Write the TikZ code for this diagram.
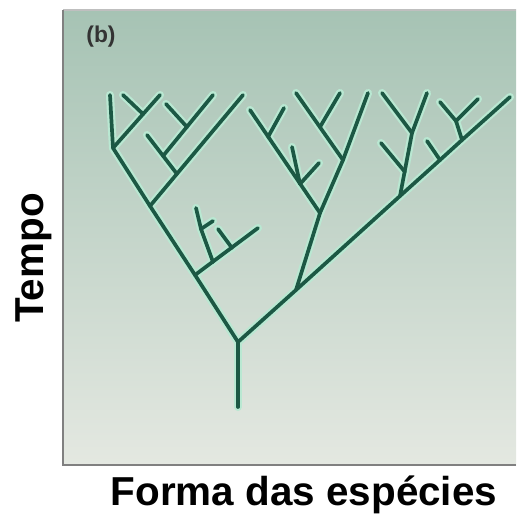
\documentclass[tikz,border=0pt]{standalone}
\usepackage{fontspec}
\setmainfont{Liberation Sans}
\usepackage{tikz}

\definecolor{panetop}{RGB}{166,195,180}
\definecolor{panemid}{RGB}{200,215,205}
\definecolor{panebot}{RGB}{228,232,225}
\definecolor{treegreen}{RGB}{28,88,68}
\definecolor{treehalo}{RGB}{185,232,210}

\newcommand{\treeedges}{root/F, F/A, A/B, B/C, C/tC,
  C/c1, c2/tc2, B/b1, K/k1, M/m1, N/n1,
  A/a1, P1/p1, p1/p1t, p1/p1r, P2/p2,
  F/Q, Q/X1, X1/X3, X3/P3, P3/G,
  Q/S1, S1/S2, S2/s, S1/s1t, T/T1, T/T2, V/v1, S2/s2t, W/w1,
  X1/Y1, Y1/y1, Y1/y2, Z/z1, X3/x3, P3/Y2, Y2/y3, Y2/y4}

\begin{document}
\begin{tikzpicture}[x=0.02cm, y=-0.02cm,
    halo/.style = {line width=4.6pt, treehalo, line cap=round, line join=round},
    branch/.style = {line width=2.1pt, treegreen, line cap=round, line join=round},
    axislabel/.style = {font=\fontsize{23}{26}\selectfont\bfseries, text=black, inner sep=0pt}]
  \useasboundingbox (0,0) rectangle (516,519);
  \fill[white] (0,0) rectangle (516,519);

  % panel
  \shade[top color=panetop, middle color=panemid, bottom color=panebot]
    (63,10) rectangle (516,465);
  \draw[line width=1pt, black!25] (63,10) -- (516,10);
  \draw[line width=1.6pt, black!50] (63,10) -- (63,465) -- (516,465);
  \node[font=\fontsize{13}{15}\selectfont\bfseries, text=black!80] (tag) at (101,37) {(b)};

  % tree points
  \coordinate (root) at (238,407);
  \coordinate (F) at (238,342);
  \coordinate (A) at (195,275);
  \coordinate (B) at (150,206);
  \coordinate (C) at (113,148);
  \coordinate (tC) at (110,95);
  \coordinate (c1) at (160,95);
  \coordinate (c2) at (143,114);
  \coordinate (tc2) at (123,95);
  \coordinate (b1) at (243,95);
  \coordinate (K) at (177,174);
  \coordinate (k1) at (147,135);
  \coordinate (M) at (163,156);
  \coordinate (m1) at (213,95);
  \coordinate (N) at (187,127);
  \coordinate (n1) at (166,104);
  \coordinate (a1) at (258,228);
  \coordinate (P1) at (213,262);
  \coordinate (p1) at (201,229);
  \coordinate (p1t) at (196,208);
  \coordinate (p1r) at (213,221);
  \coordinate (P2) at (232,248);
  \coordinate (p2) at (218,229);

  \coordinate (Q) at (296,290);
  \coordinate (S1) at (320,213);
  \coordinate (S2) at (343,160);
  \coordinate (s) at (368,93);
  \coordinate (s1t) at (250,110);
  \coordinate (T) at (300,184);
  \coordinate (T1) at (292,147);
  \coordinate (T2) at (319,163);
  \coordinate (V) at (268,137);
  \coordinate (v1) at (284,108);
  \coordinate (s2t) at (296,93);
  \coordinate (W) at (320,127);
  \coordinate (w1) at (340,93);

  \coordinate (X1) at (400,196);
  \coordinate (X3) at (440,160);
  \coordinate (P3) at (462,140);
  \coordinate (G) at (510,97);
  \coordinate (Y1) at (412,133);
  \coordinate (y1) at (427,93);
  \coordinate (y2) at (382,93);
  \coordinate (Z) at (405,172);
  \coordinate (z1) at (381,143);
  \coordinate (x3) at (427,141);
  \coordinate (Y2) at (456,121);
  \coordinate (y3) at (440,102);
  \coordinate (y4) at (478,99);

  \foreach \u/\v in \treeedges \draw[halo] (\u) -- (\v);
  \foreach \u/\v in \treeedges \draw[branch] (\u) -- (\v);

  % axis titles
  \node[axislabel, anchor=base] (xlabel) at (304,505) {Forma das espécies};
  \node[axislabel, anchor=base, rotate=90] (ylabel) at (43,258) {Tempo};
\end{tikzpicture}
\end{document}
